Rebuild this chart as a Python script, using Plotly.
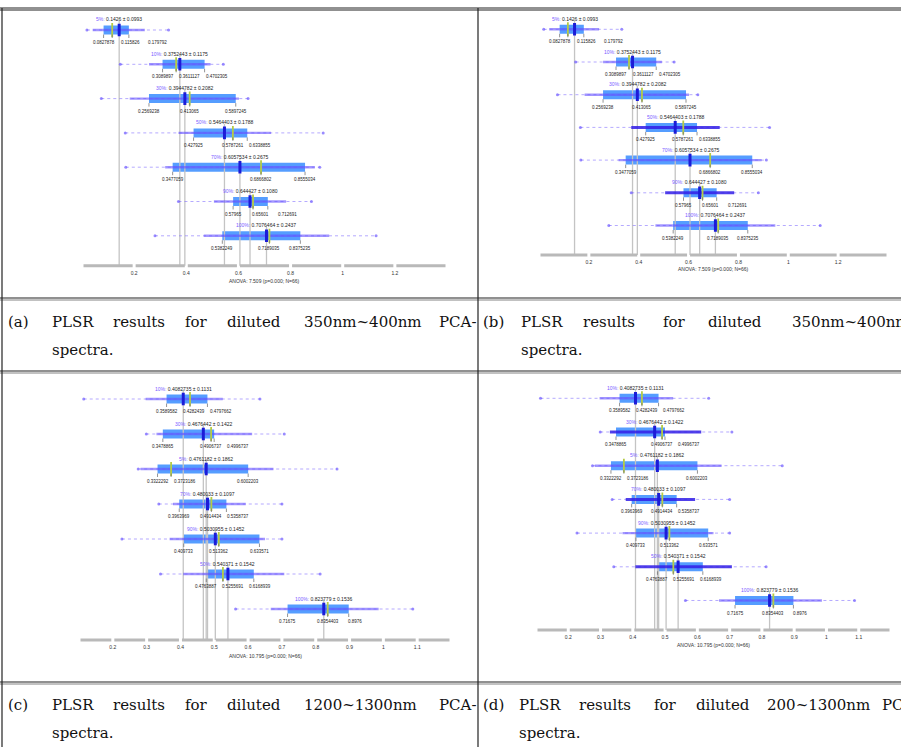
import plotly.graph_objects as go

W, H = 901, 747

# ---------------- data: panels (a) and (b), diluted 350nm~400nm ----------------
pct_ab = ["5%", "10%", "30%", "50%", "70%", "90%", "100%"]
mean_ab = [0.1426, 0.3752443, 0.3944782, 0.5464403, 0.6057534, 0.644427, 0.7076464]
std_ab = ["0.0993", "0.1175", "0.2082", "0.1788", "0.2675", "0.1080", "0.2437"]
q1_ab = [0.0827878, 0.3089897, 0.2569238, 0.427925, 0.3477059, 0.57965, 0.5382249]
med_ab = [0.115826, 0.3611127, 0.413065, 0.5787261, 0.6866802, 0.65601, 0.7189035]
q3_ab = [0.179792, 0.4702305, 0.5897245, 0.6338855, 0.8555034, 0.712691, 0.8375235]
lo_ab = [0.041, 0.257, 0.183, 0.370, 0.319, 0.506, 0.467]
hi_ab = [0.241, 0.493, 0.602, 0.725, 0.893, 0.783, 0.948]
min_ab = [0.019, 0.147, 0.074, 0.166, 0.168, 0.370, 0.280]
max_ab = [0.332, 0.542, 0.637, 0.925, 0.912, 0.880, 1.128]
ticks_ab = [0.2, 0.4, 0.6, 0.8, 1.0, 1.2]
ticktext_ab = ["0.2", "0.4", "0.6", "0.8", "1", "1.2"]
title_ab = "ANOVA: 7.509 (p=0.000; N=66)"

# ---------------- data: panels (c) and (d) ----------------
pct_cd = ["10%", "30%", "5%", "70%", "90%", "50%", "100%"]
mean_cd = [0.4082735, 0.4676442, 0.4761182, 0.480033, 0.5030955, 0.540371, 0.823779]
std_cd = ["0.1131", "0.1422", "0.1862", "0.1097", "0.1452", "0.1542", "0.1536"]
q1_cd = [0.3589582, 0.3478865, 0.3322292, 0.3963969, 0.409733, 0.4763887, 0.71675]
med_cd = [0.4282439, 0.4906737, 0.3723186, 0.4914434, 0.513362, 0.5255691, 0.8354403]
q3_cd = [0.4797662, 0.4996737, 0.6002203, 0.5358737, 0.633571, 0.6168939, 0.89760]
lo_cd = [0.297, 0.329, 0.282, 0.378, 0.368, 0.408, 0.667]
hi_cd = [0.525, 0.612, 0.675, 0.593, 0.650, 0.707, 0.986]
min_cd = [0.114, 0.299, 0.275, 0.336, 0.227, 0.341, 0.563]
max_cd = [0.635, 0.707, 0.863, 0.700, 0.700, 0.813, 1.087]
ticks_cd = [0.2, 0.3, 0.4, 0.5, 0.6, 0.7, 0.8, 0.9, 1.0, 1.1]
ticktext_cd = ["0.2", "0.3", "0.4", "0.5", "0.6", "0.7", "0.8", "0.9", "1", "1.1"]
title_cd = "ANOVA: 10.795 (p=0.000; N=66)"

# ---------------- captions ----------------
cap_a = ["(a)", "PLSR", "results", "for", "diluted", "350nm~400nm", "PCA-"]
cap_b = ["(b)", "PLSR", "results", "for", "diluted", "350nm~400nm", "PCA-"]
cap_c = ["(c)", "PLSR", "results", "for", "diluted", "1200~1300nm", "PCA-"]
cap_d = ["(d)", "PLSR", "results", "for", "diluted", "200~1300nm", "PCA-"]
cap_line2 = "spectra."

ab = dict(pct=pct_ab, mean=mean_ab, std=std_ab, q1=q1_ab, med=med_ab, q3=q3_ab,
          lo=lo_ab, hi=hi_ab, mn=min_ab, mx=max_ab, ticks=ticks_ab,
          ticktext=ticktext_ab, title=title_ab)
cd = dict(pct=pct_cd, mean=mean_cd, std=std_cd, q1=q1_cd, med=med_cd, q3=q3_cd,
          lo=lo_cd, hi=hi_cd, mn=min_cd, mx=max_cd, ticks=ticks_cd,
          ticktext=ticktext_cd, title=title_cd)

# layout specs (pixel geometry)
specs = [
    dict(d=ab, xpx=(82, 447), xr=(0.0, 1.4), row1=30.0, step=34.3, axis=265.7, tpx=281, dark=[]),
    dict(d=ab, xpx=(539, 888), xr=(0.0, 1.4), row1=29.3, step=32.7, axis=255.0, tpx=269, dark=[3, 5]),
    dict(d=cd, xpx=(79, 451), xr=(0.1, 1.2), row1=399.0, step=35.0, axis=640.0, tpx=656, dark=[]),
    dict(d=cd, xpx=(536, 891), xr=(0.1, 1.2), row1=398.3, step=33.7, axis=630.0, tpx=645, dark=[1, 3, 5]),
]

fig = go.Figure()
annotations = []
layout_axes = {}

PURPLE_TXT = "#7a5cff"
PAD = 0.14

for n, s in enumerate(specs, start=1):
    d = s["d"]
    xa = "x" if n == 1 else f"x{n}"
    ya = "y" if n == 1 else f"y{n}"
    nrow = len(d["mean"])
    rows = [-(i + 1) for i in range(nrow)]
    step = s["step"]
    yaxis_val = -(1 + (s["axis"] - s["row1"]) / step)
    ybot = yaxis_val - PAD
    top_px = s["row1"] - 24
    ytop = -(1 - 24 / step)
    x0, x1 = s["xpx"]
    k = (x1 - x0) / (s["xr"][1] - s["xr"][0])  # px per unit

    layout_axes["xaxis" if n == 1 else f"xaxis{n}"] = dict(
        domain=[x0 / W, x1 / W], range=list(s["xr"]), anchor=ya,
        tickvals=d["ticks"], ticktext=d["ticktext"], showgrid=False, zeroline=False,
        showline=False, ticks="", tickfont=dict(size=5, color="#333", family="Arial"),
        ticklabelstandoff=-2,
    )
    layout_axes["yaxis" if n == 1 else f"yaxis{n}"] = dict(
        domain=[1 - (s["axis"] + PAD * step) / H, 1 - top_px / H],
        range=[ybot, ytop], anchor=xa, visible=False,
    )

    # grey reference lines from each mean down to the axis
    gx, gy = [], []
    for m, r in zip(d["mean"], rows):
        gx += [m, m, None]
        gy += [r + 0.27, yaxis_val, None]
    fig.add_trace(go.Scatter(x=gx, y=gy, mode="lines", xaxis=xa, yaxis=ya,
                             line=dict(color="#c4c4c4", width=1.3), hoverinfo="skip"))

    # dotted full-range lines
    dx, dy = [], []
    for a, b, r in zip(d["mn"], d["mx"], rows):
        dx += [a, b, None]
        dy += [r, r, None]
    fig.add_trace(go.Scatter(x=dx, y=dy, mode="lines", xaxis=xa, yaxis=ya,
                             line=dict(color="rgba(120,100,255,0.55)", width=1, dash="dot"),
                             hoverinfo="skip"))
    fig.add_trace(go.Scatter(x=d["mn"] + d["mx"], y=rows + rows, mode="markers",
                             xaxis=xa, yaxis=ya, hoverinfo="skip",
                             marker=dict(size=3, color="rgba(110,90,255,0.7)")))

    # solid whiskers
    for dark in (False, True):
        wx, wy = [], []
        for i, (a, b, r) in enumerate(zip(d["lo"], d["hi"], rows)):
            if (i in s["dark"]) == dark:
                wx += [a, b, None]
                wy += [r, r, None]
        if wx:
            fig.add_trace(go.Scatter(
                x=wx, y=wy, mode="lines", xaxis=xa, yaxis=ya, hoverinfo="skip",
                line=dict(color="rgba(50,30,230,0.85)" if dark else "rgba(100,80,255,0.6)",
                          width=3.0 if dark else 2.4)))

    # IQR boxes
    fig.add_trace(go.Bar(
        x=[b - a for a, b in zip(d["q1"], d["q3"])], base=d["q1"], y=rows,
        orientation="h", width=9 / step, xaxis=xa, yaxis=ya, hoverinfo="skip",
        marker=dict(color="rgba(55,140,255,0.85)", line=dict(width=0))))

    # medians
    fig.add_trace(go.Scatter(x=d["med"], y=rows, mode="markers", xaxis=xa, yaxis=ya,
                             hoverinfo="skip",
                             marker=dict(symbol="line-ns-open", size=10, color="#b5cc45",
                                         line=dict(color="#b5cc45", width=1.8))))
    # means
    fig.add_trace(go.Scatter(x=d["mean"], y=rows, mode="markers", xaxis=xa, yaxis=ya,
                             hoverinfo="skip",
                             marker=dict(symbol="line-ns-open", size=9, color="#1c1cd8",
                                         line=dict(color="#1c1cd8", width=3))))

    # leader ticks under q1/median/q3
    lx, ly = [], []
    for i, r in enumerate(rows):
        for v in (d["q1"][i], d["med"][i], d["q3"][i]):
            lx += [v, v, None]
            ly += [r - 4.5 / step, r - 8 / step, None]
    fig.add_trace(go.Scatter(x=lx, y=ly, mode="lines", xaxis=xa, yaxis=ya,
                             hoverinfo="skip", line=dict(color="#777", width=0.8)))

    # axis line segments between ticks
    bps = [s["xr"][0]] + list(d["ticks"]) + [s["xr"][1]]
    g = 1.5 / k
    ax_x, ax_y = [], []
    for a, b in zip(bps[:-1], bps[1:]):
        ax_x += [a + g, b - g, None]
        ax_y += [yaxis_val, yaxis_val, None]
    fig.add_trace(go.Scatter(x=ax_x, y=ax_y, mode="lines", xaxis=xa, yaxis=ya,
                             hoverinfo="skip", line=dict(color="#b9b9b9", width=3)))

    # texts
    for i, r in enumerate(rows):
        annotations.append(dict(
            x=d["mean"][i], y=r + 5.5 / step, xref=xa, yref=ya, showarrow=False,
            xanchor="center", yanchor="bottom",
            text=f"<span style='color:{PURPLE_TXT}'>{d['pct'][i]}:</span> {d['mean'][i]} \u00b1 {d['std'][i]}",
            font=dict(size=5, color="#222", family="Arial")))
        vals = [d["q1"][i], d["med"][i], d["q3"][i]]
        pos = [v * k for v in vals]
        wlab = 27
        newpos = list(pos)
        for j in range(1, 3):
            if newpos[j] - newpos[j - 1] < wlab:
                newpos[j] = newpos[j - 1] + wlab
        for v, p0, p1 in zip(vals, pos, newpos):
            annotations.append(dict(
                x=v, y=r - 8 / step, xref=xa, yref=ya, showarrow=False,
                xanchor="center", yanchor="top", xshift=p1 - p0,
                text=str(v), font=dict(size=4.5, color="#222", family="Arial")))

    annotations.append(dict(
        x=0.5, xref=f"{xa} domain", y=1 - s["tpx"] / H, yref="paper", showarrow=False,
        xanchor="center", yanchor="middle", text=d["title"],
        font=dict(size=5, color="#333", family="Arial")))

# ---------------- caption words (justified) ----------------
cap_rows = [
    (cap_a, [6, 50, 111, 183, 225, 302, 437], 322),
    (cap_b, [481, 519, 581, 661, 706, 790, 930], 322),
    (cap_c, [6, 50, 111, 183, 225, 302, 437], 705),
    (cap_d, [481, 517, 577, 652, 694, 765, 880], 705),
]
CAP_FONT = dict(size=15, color="#111", family="DejaVu Serif")
for words, xs, ypx in cap_rows:
    for w, xp in zip(words, xs):
        annotations.append(dict(x=xp / W, y=1 - ypx / H, xref="paper", yref="paper",
                                showarrow=False, xanchor="left", yanchor="middle",
                                text=w, font=CAP_FONT))
for xp, ypx in [(50, 350), (519, 350), (50, 733), (517, 733)]:
    annotations.append(dict(x=xp / W, y=1 - ypx / H, xref="paper", yref="paper",
                            showarrow=False, xanchor="left", yanchor="middle",
                            text=cap_line2, font=CAP_FONT))

# ---------------- table rules ----------------
shapes = []
def hline(ypx, w=1.0, color="#222"):
    shapes.append(dict(type="line", xref="paper", yref="paper", x0=0, x1=1,
                       y0=1 - ypx / H, y1=1 - ypx / H, line=dict(color=color, width=w)))
def vline(xpx, y0px, y1px, w=1.0, color="#222"):
    shapes.append(dict(type="line", xref="paper", yref="paper", x0=xpx / W, x1=xpx / W,
                       y0=1 - y0px / H, y1=1 - y1px / H, line=dict(color=color, width=w)))

hline(8, 1.2); hline(10, 1.2)
hline(298, 1.2); hline(300, 0.8, "#666")
hline(371, 1.2); hline(373, 0.8, "#666")
hline(682, 1.2); hline(684, 0.8, "#666")
vline(2, 8, 747, 1.2)
vline(478, 8, 747, 1.2)

fig.update_layout(
    width=W, height=H, margin=dict(l=0, r=0, t=0, b=0),
    paper_bgcolor="white", plot_bgcolor="rgba(0,0,0,0)",
    showlegend=False, annotations=annotations, shapes=shapes,
    barmode="overlay", **layout_axes,
)

fig.write_html("out.html", config={"displayModeBar": False},
               post_script="document.body.style.margin='0px';")
